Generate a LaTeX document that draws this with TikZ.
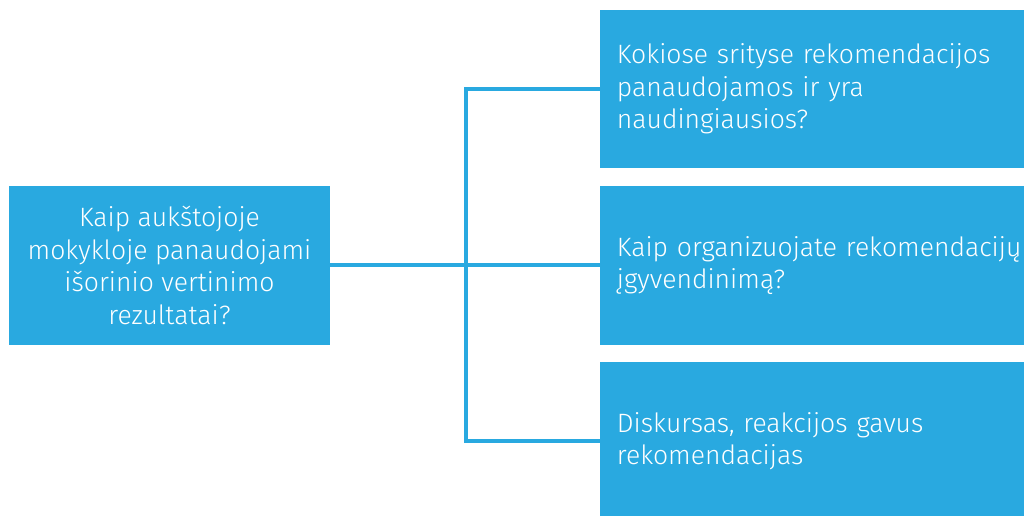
\documentclass[tikz,border=0pt]{standalone}
\usepackage{fontspec}
\setmainfont{Fira Sans}[UprightFont=* Light]
\usetikzlibrary{positioning}
\definecolor{qblue}{RGB}{41,169,224}

\begin{document}
\begin{tikzpicture}[x=0.75pt,y=-0.75pt,
  qbox/.style={fill=qblue,text=white,inner sep=0pt,
    font=\fontsize{19.9}{24.4}\selectfont},
  link/.style={draw=qblue,line width=3pt,line join=miter}]
\useasboundingbox (0,0) rectangle (1024,516);
\clip (0,0) rectangle (1024,516);
% ===== question on the left =====
\node[qbox,minimum width=321*0.75pt,minimum height=159*0.75pt,align=center]
  (q) at (169.5,265.5)
  {Kaip aukštojoje\\mokykloje panaudojami\\išorinio vertinimo\\rezultatai?};
% ===== three answers on the right =====
\node[qbox,anchor=west,minimum width=460*0.75pt,minimum height=158*0.75pt,
  align=left,text width=460*0.75pt] (a1) at (600,89)
  {\hspace*{12.5pt}Kokiose srityse rekomendacijos\\\hspace*{12.5pt}panaudojamos ir yra\\\hspace*{12.5pt}naudingiausios?};
\node[qbox,anchor=west,minimum width=460*0.75pt,minimum height=159*0.75pt,
  align=left,text width=460*0.75pt] (a2) at (600,265.5)
  {\hspace*{12.5pt}Kaip organizuojate rekomendacijų\\\hspace*{12.5pt}įgyvendinimą?};
\node[qbox,anchor=west,minimum width=460*0.75pt,minimum height=158*0.75pt,
  align=left,text width=460*0.75pt] (a3) at (600,441)
  {\hspace*{12.5pt}Diskursas, reakcijos gavus\\\hspace*{12.5pt}rekomendacijas};
% ===== connectors =====
\coordinate (jx) at (466,265.5);
\draw[link] (q.east) -- (a2.west);
\draw[link] (a1.west) -| (jx) |- (a3.west);
\end{tikzpicture}
\end{document}
